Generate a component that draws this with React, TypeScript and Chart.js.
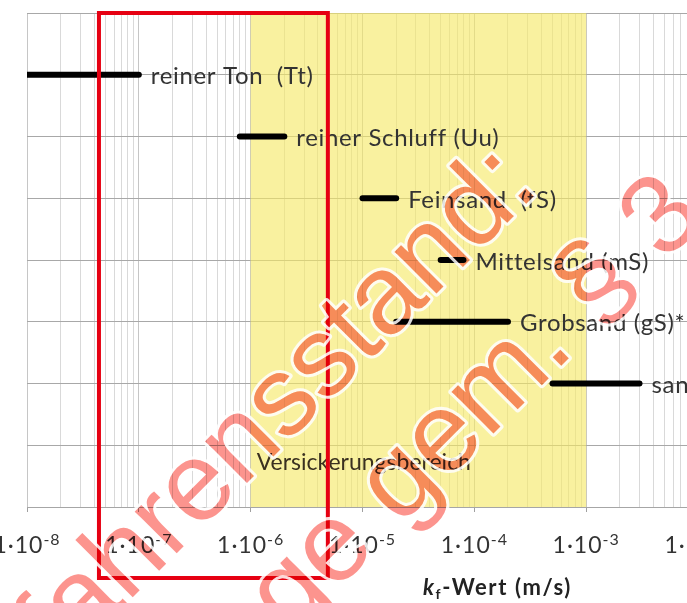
import React, { useEffect, useRef } from "react";
import { Chart, registerables } from "chart.js";

Chart.register(...registerables);

// ---------- data ----------
const materials = [
  "reiner Ton  (Tt)",
  "reiner Schluff (Uu)",
  "Feinsand  (fS)",
  "Mittelsand (mS)",
  "Grobsand (gS)*",
  "sandiger Kies (GS)",
];
const kfLow = [1e-8, 8e-7, 1e-5, 5e-5, 2e-5, 5e-4];
const kfHigh = [1e-7, 2e-6, 2e-5, 8e-5, 2e-4, 3e-3];
const rowPos = [7, 6, 5, 4, 3, 2];

const decadeExponents = [-8, -7, -6, -5, -4, -3, -2];
const minorMultipliers = [1, 2, 3, 4, 5, 6, 7, 8, 9];

const infiltrationRange = [1e-6, 1e-3];
const infiltrationLabel = "Versickerungsbereich";
const infiltrationLabelRow = 0.72;

const highlightRange = [4.4e-8, 4.9e-6];

const watermarkLines = ["Verfahrensstand:", "Offenlage gem. § 3 (2) BauGB"];

// ---------- layout ----------
const W = 740;
const H = 603;
const FONT = "Lato, 'Open Sans', sans-serif";

const tickValues: number[] = [];
decadeExponents.forEach((e, i) => {
  if (i === decadeExponents.length - 1) {
    tickValues.push(Math.pow(10, e));
  } else {
    minorMultipliers.forEach((m) => tickValues.push(Number((m * Math.pow(10, e)).toPrecision(6))));
  }
});

const isDecade = (v: number | undefined) => {
  if (!v) return false;
  const l = Math.log10(v);
  return Math.abs(l - Math.round(l)) < 1e-6;
};

const setSpacing = (ctx: any, px: number) => {
  if ("letterSpacing" in ctx) ctx.letterSpacing = `${px}px`;
};

const overlay = {
  id: "overlay",
  beforeDatasetsDraw(chart: any) {
    const { ctx, chartArea } = chart;
    const x = chart.scales.x;
    const x0 = x.getPixelForValue(infiltrationRange[0]);
    const x1 = x.getPixelForValue(infiltrationRange[1]);
    ctx.save();
    ctx.fillStyle = "rgba(246,232,100,0.62)";
    ctx.fillRect(x0, chartArea.top, x1 - x0, chartArea.bottom - chartArea.top);
    ctx.restore();
  },
  afterDatasetsDraw(chart: any) {
    const { ctx } = chart;
    const x = chart.scales.x;
    const y = chart.scales.y;
    ctx.save();
    ctx.font = `24px ${FONT}`;
    setSpacing(ctx, 0.65);
    ctx.fillStyle = "#333";
    ctx.textBaseline = "middle";
    ctx.textAlign = "left";
    materials.forEach((m, i) => {
      ctx.fillText(m, x.getPixelForValue(kfHigh[i]) + 12, y.getPixelForValue(rowPos[i]) + 2);
    });
    setSpacing(ctx, 0);
    ctx.font = `23px ${FONT}`;
    ctx.fillStyle = "#3a3020";
    ctx.fillText(
      infiltrationLabel,
      x.getPixelForValue(infiltrationRange[0]) + 6,
      y.getPixelForValue(infiltrationLabelRow)
    );
    ctx.restore();
  },
  afterDraw(chart: any) {
    const { ctx, chartArea } = chart;
    const x = chart.scales.x;
    // tick labels
    ctx.save();
    ctx.fillStyle = "#333";
    ctx.textBaseline = "alphabetic";
    ctx.textAlign = "left";
    decadeExponents.forEach((e) => {
      const px = x.getPixelForValue(Math.pow(10, e));
      const base = "1·10";
      const sup = String(e);
      setSpacing(ctx, 1.0);
      ctx.font = `23px ${FONT}`;
      const wb = ctx.measureText(base).width;
      ctx.font = `16px ${FONT}`;
      const ws = ctx.measureText(sup).width;
      const start = px - (wb + ws) / 2;
      ctx.font = `23px ${FONT}`;
      ctx.fillText(base, start, 553);
      ctx.font = `16px ${FONT}`;
      ctx.fillText(sup, start + wb, 545);
    });
    // axis title
    let tx = 423;
    const ty = 595;
    setSpacing(ctx, 1.6);
    ctx.fillStyle = "#222";
    ctx.font = `italic bold 22px ${FONT}`;
    ctx.fillText("k", tx, ty);
    tx += ctx.measureText("k").width;
    ctx.font = `bold 14px ${FONT}`;
    ctx.fillText("f", tx, ty + 4);
    tx += ctx.measureText("f").width;
    ctx.font = `bold 22px ${FONT}`;
    ctx.fillText("-Wert (m/s)", tx, ty);
    setSpacing(ctx, 0);
    ctx.restore();

    // highlight rectangle
    const r0 = x.getPixelForValue(highlightRange[0]);
    const r1 = x.getPixelForValue(highlightRange[1]);
    ctx.save();
    ctx.strokeStyle = "#e60012";
    ctx.lineWidth = 4;
    ctx.strokeRect(r0, chartArea.top, r1 - r0, 578 - chartArea.top);
    ctx.restore();

    // watermark
    const ang = -Math.PI / 4;
    const dx = Math.cos(ang);
    const dy = Math.sin(ang);
    const wmFont = `112px 'Liberation Sans', Arial, sans-serif`;
    ctx.save();
    ctx.font = wmFont;
    const placements = [
      { text: watermarkLines[0], prefix: "Verfahrensstand", anchor: ":", ax: 530, ay: 200 },
      { text: watermarkLines[1], prefix: "Offenlage gem", anchor: ".", ax: 565, ay: 362 },
    ].map((p) => {
      const dist = ctx.measureText(p.prefix).width + ctx.measureText(p.anchor).width / 2;
      return { text: p.text, sx: p.ax - dx * dist, sy: p.ay - dy * dist };
    });
    ctx.restore();

    const off = document.createElement("canvas");
    off.width = chart.width;
    off.height = chart.height;
    const o = off.getContext("2d") as CanvasRenderingContext2D;
    o.font = wmFont;
    o.lineJoin = "round";
    placements.forEach((p) => {
      o.save();
      o.translate(p.sx, p.sy);
      o.rotate(ang);
      o.strokeStyle = "rgba(255,255,255,0.85)";
      o.lineWidth = 6;
      o.strokeText(p.text, 0, 0);
      o.restore();
    });
    o.globalCompositeOperation = "destination-out";
    placements.forEach((p) => {
      o.save();
      o.translate(p.sx, p.sy);
      o.rotate(ang);
      o.fillText(p.text, 0, 0);
      o.restore();
    });
    ctx.save();
    ctx.drawImage(off, 0, 0);
    ctx.globalCompositeOperation = "multiply";
    ctx.font = wmFont;
    ctx.fillStyle = "rgb(252,148,142)";
    placements.forEach((p) => {
      ctx.save();
      ctx.translate(p.sx, p.sy);
      ctx.rotate(ang);
      ctx.fillText(p.text, 0, 0);
      ctx.restore();
    });
    ctx.restore();
  },
};

export default function App() {
  const ref = useRef<HTMLCanvasElement | null>(null);
  useEffect(() => {
    if (!ref.current) return;
    const chart = new Chart(ref.current, {
      type: "scatter",
      data: {
        datasets: materials.map((m, i) => ({
          label: m,
          data: [
            { x: kfLow[i], y: rowPos[i] },
            { x: kfHigh[i], y: rowPos[i] },
          ],
          showLine: true,
          borderColor: "#000",
          backgroundColor: "#000",
          borderWidth: 6,
          borderCapStyle: "round",
          pointRadius: 0,
          pointHoverRadius: 0,
          fill: false,
        })),
      },
      options: {
        responsive: false,
        animation: false,
        devicePixelRatio: 1,
        events: [],
        layout: { padding: { left: 27, top: 13, right: W - 698, bottom: H - 507 - 5 } },
        plugins: { legend: { display: false }, tooltip: { enabled: false }, title: { display: false } },
        scales: {
          x: {
            type: "logarithmic",
            min: 1e-8,
            max: 1e-2,
            afterBuildTicks: (scale: any) => {
              scale.ticks = tickValues.map((v) => ({ value: v, major: isDecade(v) }));
            },
            ticks: { display: false, autoSkip: false },
            grid: {
              color: (c: any) => (isDecade(c.tick?.value) ? "#c6c6c6" : "#d9d9d9"),
              lineWidth: 1,
              drawTicks: true,
              tickLength: 5,
              tickColor: (c: any) => (isDecade(c.tick?.value) ? "#a0a0a0" : "rgba(0,0,0,0)"),
            },
            border: { display: true, color: "#a6a6a6" },
          },
          y: {
            type: "linear",
            min: 0,
            max: 8,
            ticks: { display: false, stepSize: 1 },
            grid: { color: "#a8a8a8", drawTicks: false, lineWidth: 1 },
            border: { display: false },
          },
        },
      } as any,
      plugins: [overlay],
    });
    return () => chart.destroy();
  }, []);
  return (
    <div
      style={{
        position: "fixed",
        left: 0,
        top: 0,
        width: 687,
        height: 603,
        overflow: "hidden",
        background: "#fff",
      }}
    >
      <canvas ref={ref} width={W} height={H} style={{ display: "block", width: W, height: H }} />
    </div>
  );
}
